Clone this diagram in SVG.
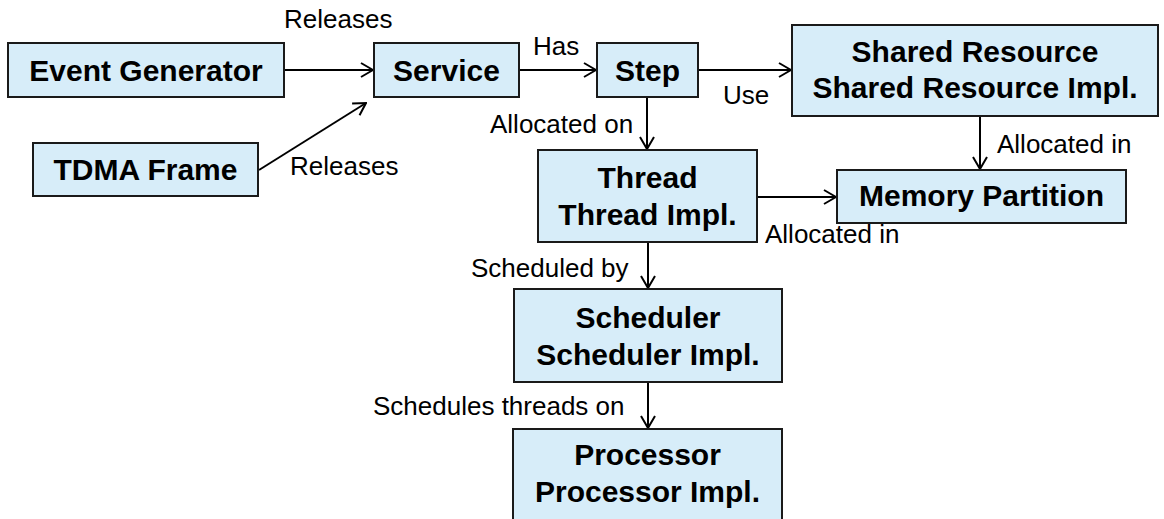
<svg xmlns="http://www.w3.org/2000/svg" width="1164" height="519" viewBox="0 0 1164 519">
<style>
.box{fill:#d7edf9;stroke:#1a1a1a;stroke-width:2}
.nt{font-family:"Liberation Sans",Arial,sans-serif;font-weight:bold;font-size:30px;fill:#000;text-anchor:middle}
.lb{font-family:"Liberation Sans",Arial,sans-serif;font-size:26px;fill:#000}
.cn{stroke:#000;stroke-width:2;fill:none;marker-end:url(#ah)}
</style>
<defs>
<marker id="ah" markerUnits="userSpaceOnUse" viewBox="0 0 14 16" refX="13" refY="8" markerWidth="14" markerHeight="16" orient="auto">
<path d="M1,1 L13,8 L1,15" fill="none" stroke="#000" stroke-width="2"/>
</marker>
</defs>
<rect width="1164" height="519" fill="#fff"/>
<g id="connectors">
<line class="cn" x1="284" y1="70" x2="373" y2="70"/>
<line class="cn" x1="259" y1="170" x2="366" y2="103"/>
<line class="cn" x1="519" y1="70" x2="596" y2="70"/>
<line class="cn" x1="698" y1="70" x2="791" y2="70"/>
<line class="cn" x1="647" y1="97" x2="647" y2="149"/>
<line class="cn" x1="757" y1="197" x2="836" y2="197"/>
<line class="cn" x1="980" y1="116" x2="980" y2="169"/>
<line class="cn" x1="648" y1="242" x2="648" y2="288"/>
<line class="cn" x1="648" y1="382" x2="648" y2="428"/>
<text class="lb" x="284" y="28">Releases</text>
<text class="lb" x="290" y="175">Releases</text>
<text class="lb" x="533" y="55">Has</text>
<text class="lb" x="723" y="104">Use</text>
<text class="lb" x="490" y="133">Allocated on</text>
<text class="lb" x="997" y="153">Allocated in</text>
<text class="lb" x="765" y="243">Allocated in</text>
<text class="lb" x="471" y="277">Scheduled by</text>
<text class="lb" x="373" y="415">Schedules threads on</text>
</g>
<g id="event-generator"><rect class="box" x="8" y="43" width="276" height="54"/><text class="nt" x="146" y="81">Event Generator</text></g>
<g id="tdma-frame"><rect class="box" x="33" y="143" width="225" height="53"/><text class="nt" x="145.5" y="180">TDMA Frame</text></g>
<g id="service"><rect class="box" x="374" y="43" width="145" height="54"/><text class="nt" x="446.5" y="81">Service</text></g>
<g id="step"><rect class="box" x="597" y="43" width="101" height="54"/><text class="nt" x="647.5" y="81">Step</text></g>
<g id="shared-resource"><rect class="box" x="792" y="25" width="366" height="91"/><text class="nt" x="975" y="62">Shared Resource</text><text class="nt" x="975" y="98">Shared Resource Impl.</text></g>
<g id="thread"><rect class="box" x="538" y="150" width="219" height="92"/><text class="nt" x="647.5" y="188">Thread</text><text class="nt" x="647.5" y="225">Thread Impl.</text></g>
<g id="memory-partition"><rect class="box" x="837" y="170" width="289" height="53"/><text class="nt" x="981.5" y="206">Memory Partition</text></g>
<g id="scheduler"><rect class="box" x="514" y="289" width="268" height="93"/><text class="nt" x="648" y="328">Scheduler</text><text class="nt" x="648" y="365">Scheduler Impl.</text></g>
<g id="processor"><rect class="box" x="513" y="429" width="269" height="100"/><text class="nt" x="647.5" y="465">Processor</text><text class="nt" x="647.5" y="502">Processor Impl.</text></g>
</svg>
